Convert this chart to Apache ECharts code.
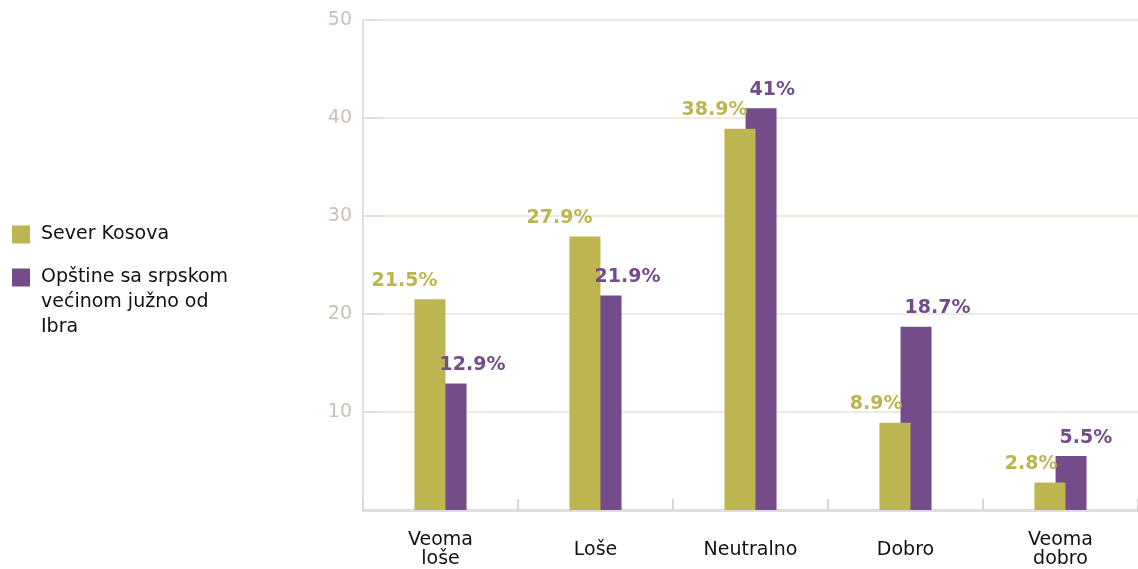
<!DOCTYPE html>
<html><head><meta charset="utf-8">
<script src="https://cdn.jsdelivr.net/npm/echarts@6/dist/echarts.min.js"></script>
<style>html,body{margin:0;padding:0;background:#fff}#c{width:1138px;height:569px}</style>
</head><body><div id="c"></div>
<script>
const categories = ['Veoma\nloše', 'Loše', 'Neutralno', 'Dobro', 'Veoma\ndobro'];
const seriesNames = ['Sever Kosova', 'Opštine sa srpskom\nvećinom južno od\nIbra'];
const severKosova = [21.5, 27.9, 38.9, 8.9, 2.8];
const opstineJug = [12.9, 21.9, 41, 18.7, 5.5];
const yTicks = { min: 0, max: 50, interval: 10 };

const GREEN = '#bcb550', PURPLE = '#744c8a';
const FONT = 'DejaVu Sans';
const legendText = { fontFamily: FONT, fontSize: 19, color: '#111', lineHeight: 25, padding: [0, 0, 0, 6] };
const chart = echarts.init(document.getElementById('c'));
chart.setOption({
  animation: false,
  textStyle: { fontFamily: FONT },
  grid: { left: 363, right: 0, top: 20, bottom: 58, containLabel: false },
  legend: [
    { orient: 'vertical', left: 12, top: 222, padding: 0, itemWidth: 18, itemHeight: 18,
      icon: 'rect', data: [seriesNames[0]], textStyle: legendText },
    { orient: 'vertical', left: 12, top: 265, padding: 0, itemWidth: 18, itemHeight: 68,
      icon: 'path://M0,0L18,0L18,18L0,18Z M18,68', data: [seriesNames[1]], textStyle: legendText }
  ],
  xAxis: {
    type: 'category', data: categories,
    axisLine: { lineStyle: { color: '#dddddd', width: 3 } },
    axisTick: { show: true, inside: true, length: 11, interval: 0, lineStyle: { color: '#d6d6d6', width: 2 } },
    axisLabel: { fontFamily: FONT, fontSize: 19, color: '#111', lineHeight: 19, verticalAlign: 'middle', margin: 40 }
  },
  yAxis: {
    type: 'value', min: yTicks.min, max: yTicks.max, interval: yTicks.interval,
    axisLine: { show: true, lineStyle: { color: '#e0e0e0', width: 2 } },
    axisTick: { show: true, inside: true, length: 20, lineStyle: { color: '#e0e0e0', width: 2 } },
    axisLabel: { showMinLabel: false, fontFamily: FONT, fontSize: 19, color: '#c9c0b6', margin: 11 },
    splitLine: { lineStyle: { color: '#e9e3d8', width: 1.5 } }
  },
  series: [
    // purple drawn first (behind); a gap below -100% places the green bar to its left
    { name: seriesNames[1], type: 'bar', data: opstineJug, barWidth: 31,
      itemStyle: { color: PURPLE },
      label: { show: true, position: 'top', distance: 9, align: 'left', offset: [-11.5, 0], formatter: p => p.value + '%',
        fontFamily: FONT, fontWeight: 'bold', fontSize: 19, color: PURPLE } },
    { name: seriesNames[0], type: 'bar', data: severKosova, barWidth: 31, barGap: '-168%',
      itemStyle: { color: GREEN },
      label: { show: true, position: 'top', distance: 9, align: 'right', offset: [7.5, 0], formatter: p => p.value + '%',
        fontFamily: FONT, fontWeight: 'bold', fontSize: 19, color: GREEN } }
  ]
});
</script></body></html>
